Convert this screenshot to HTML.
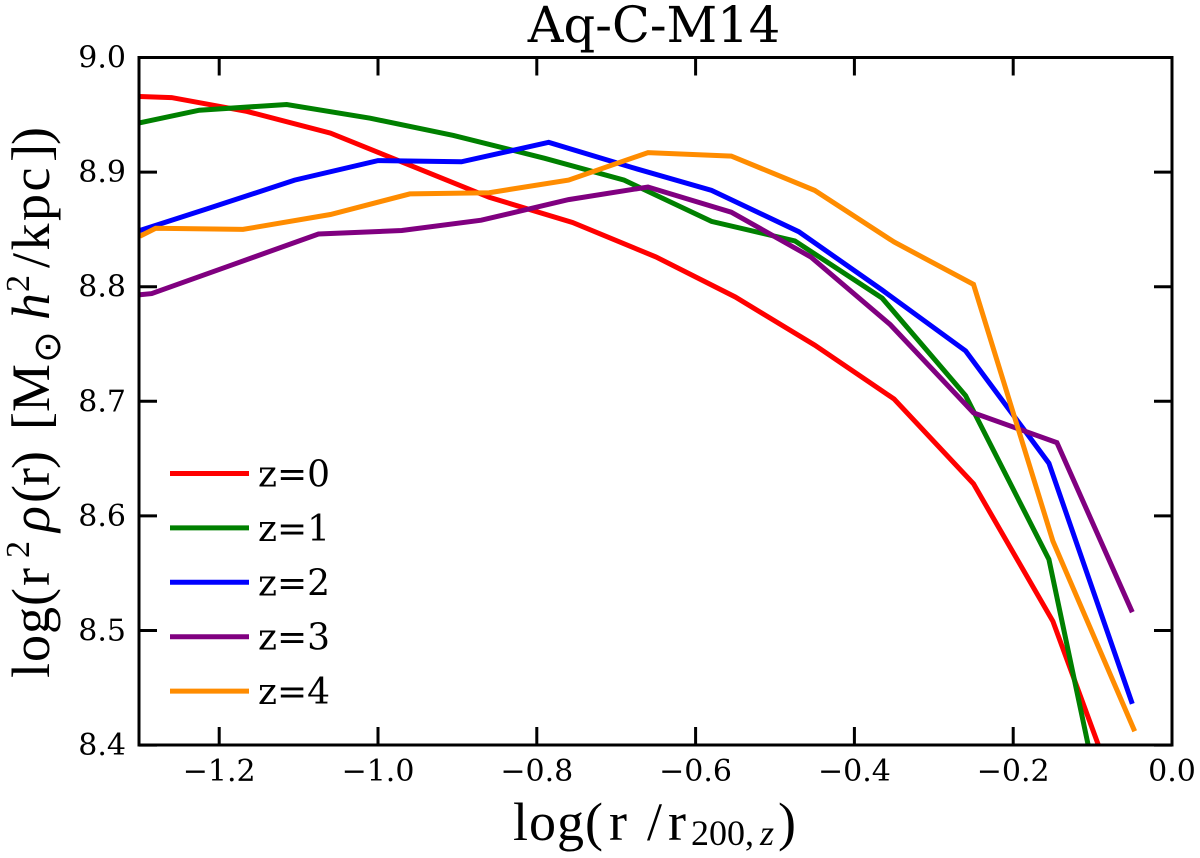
<!DOCTYPE html>
<html>
<head>
<meta charset="utf-8">
<title>Aq-C-M14</title>
<style>
html,body{margin:0;padding:0;background:#fff;overflow:hidden;width:1200px;height:858px;}
svg{display:block;position:absolute;left:0;top:0;overflow:hidden;}
text{fill:#000;}
.dj{font-family:"DejaVu Serif","Liberation Serif",serif;}
.lb{font-family:"Liberation Serif","DejaVu Serif",serif;font-size:54px;}
</style>
</head>
<body>
<svg id="chart" width="1200" height="858" viewBox="0 0 1200 858" xmlns="http://www.w3.org/2000/svg">
<defs><clipPath id="plot-clip"><rect x="139" y="57.5" width="1033" height="687.5"></rect></clipPath></defs>
<rect width="1200" height="858" fill="#fff"></rect>
<text class="dj" x="654" y="42" font-size="49.5" text-anchor="middle">Aq-C-M14</text>
<g id="series" clip-path="url(#plot-clip)"></g>
<g id="ticks"></g>
<rect x="139" y="57.5" width="1033" height="687.5" fill="none" stroke="#000" stroke-width="3"></rect>
<g id="legend"></g>
<g class="lb">
<text x="513" y="840" style="letter-spacing:1px">log(</text>
<text x="609" y="840">r</text>
<text x="647" y="840">/</text>
<text x="668" y="840">r</text>
<text x="691" y="845" font-size="36">200,</text>
<text x="760" y="845" font-size="36" font-style="italic">z</text>
<text x="778" y="840">)</text>
</g>
<g class="lb" transform="translate(49,680) rotate(-90)">
<text x="2" y="0" style="letter-spacing:1px">log(</text>
<text x="94" y="0">r</text>
<text x="122" y="-20" font-size="34">2</text>
<text x="148" y="0" font-style="italic">ρ</text>
<text x="177" y="0" style="letter-spacing:-1px">(r)</text>
<text x="250" y="0">[</text>
<text x="268" y="0">M</text>
<text x="317" y="11" font-size="38" style="font-family:'DejaVu Sans',sans-serif">⊙</text>
<text x="360" y="0" font-style="italic">h</text>
<text x="388" y="-20" font-size="34">2</text>
<text x="412" y="0" style="letter-spacing:2.5px">/kpc</text>
<text x="518" y="0">]</text>
<text x="535" y="0">)</text>
</g>
</svg>
<script>
var seriesNames = ["z=0","z=1","z=2","z=3","z=4"];
var seriesColors = ["#ff0000","#008000","#0000ff","#800080","#ff8c00"];
var xTicks = [-1.2,-1.0,-0.8,-0.6,-0.4,-0.2,0.0];
var yTicks = [8.4,8.5,8.6,8.7,8.8,8.9,9.0];
var xTickLabels = ["\u22121.2","\u22121.0","\u22120.8","\u22120.6","\u22120.4","\u22120.2","0.0"];
var yTickLabels = ["8.4","8.5","8.6","8.7","8.8","8.9","9.0"];

var z0x = [-1.30,-1.26,-1.165,-1.06,-0.96,-0.86,-0.755,-0.65,-0.55,-0.45,-0.35,-0.25,-0.15,-0.09];
var z0y = [8.966,8.965,8.953,8.934,8.906,8.878,8.856,8.826,8.791,8.749,8.702,8.628,8.508,8.395];
var z1x = [-1.30,-1.225,-1.115,-1.01,-0.905,-0.79,-0.69,-0.58,-0.475,-0.365,-0.26,-0.155,-0.104];
var z1y = [8.943,8.954,8.959,8.947,8.932,8.912,8.893,8.857,8.840,8.790,8.705,8.562,8.395];
var z2x = [-1.30,-1.215,-1.105,-1.0,-0.895,-0.785,-0.68,-0.58,-0.47,-0.365,-0.26,-0.155,-0.05];
var z2y = [8.849,8.868,8.893,8.910,8.909,8.926,8.904,8.884,8.848,8.797,8.744,8.646,8.436];
var z3x = [-1.30,-1.285,-1.18,-1.075,-0.97,-0.87,-0.76,-0.66,-0.555,-0.455,-0.355,-0.25,-0.145,-0.05];
var z3y = [8.793,8.794,8.820,8.846,8.849,8.858,8.876,8.887,8.865,8.826,8.767,8.690,8.664,8.516];
var z4x = [-1.30,-1.28,-1.17,-1.06,-0.96,-0.86,-0.76,-0.66,-0.555,-0.45,-0.35,-0.25,-0.15,-0.047];
var z4y = [8.844,8.851,8.850,8.863,8.881,8.882,8.893,8.917,8.914,8.884,8.839,8.802,8.578,8.412];

var NS = "http://www.w3.org/2000/svg";
function X(v){ return 1172 + v * 794; }
function Y(v){ return 57.5 + (9 - v) * 1146; }
function mk(tag, parent, attrs){
  var el = document.createElementNS(NS, tag);
  for (var k in attrs) el.setAttribute(k, attrs[k]);
  parent.appendChild(el);
  return el;
}
var allX = [z0x,z1x,z2x,z3x,z4x];
var allY = [z0y,z1y,z2y,z3y,z4y];
var gS = document.getElementById("series");
var gT = document.getElementById("ticks");
var gL = document.getElementById("legend");

allX.forEach(function(xs, i){
  var pts = xs.map(function(x, j){ return X(x).toFixed(1) + "," + Y(allY[i][j]).toFixed(1); }).join(" ");
  var el = mk("polyline", gS, {points: pts, fill: "none", stroke: seriesColors[i], "stroke-width": 5, "stroke-linejoin": "miter"});
  
  
});

xTicks.forEach(function(v, i){
  var b = mk("line", gT, {x1: X(v), x2: X(v), y1: 745, y2: 727, stroke: "#000", "stroke-width": 3});
  
  
  var t = mk("line", gT, {x1: X(v), x2: X(v), y1: 57.5, y2: 75.5, stroke: "#000", "stroke-width": 3});
  
  
  var l = mk("text", gT, {x: X(v), y: 781, "text-anchor": "middle", "font-size": 30, "class": "dj"});
  l.textContent = xTickLabels[i];
  
  
});

yTicks.forEach(function(v, i){
  var a = mk("line", gT, {x1: 139, x2: 157, y1: Y(v), y2: Y(v), stroke: "#000", "stroke-width": 3});
  
  
  var b = mk("line", gT, {x1: 1172, x2: 1154, y1: Y(v), y2: Y(v), stroke: "#000", "stroke-width": 3});
  
  
  var l = mk("text", gT, {x: 126, y: Y(v) + 10, "text-anchor": "end", "font-size": 30, "class": "dj"});
  l.textContent = yTickLabels[i];
  
  
});

seriesNames.forEach(function(name, i){
  var yy = 473.5 + i * 54.4;
  var s = mk("line", gL, {x1: 170, x2: 249, y1: yy, y2: yy, stroke: seriesColors[i], "stroke-width": 5});
  
  
  var t = mk("text", gL, {x: 258, y: yy + 13, "font-size": 36, "class": "dj"});
  t.textContent = name;
  
  
});
</script>
</body>
</html>
